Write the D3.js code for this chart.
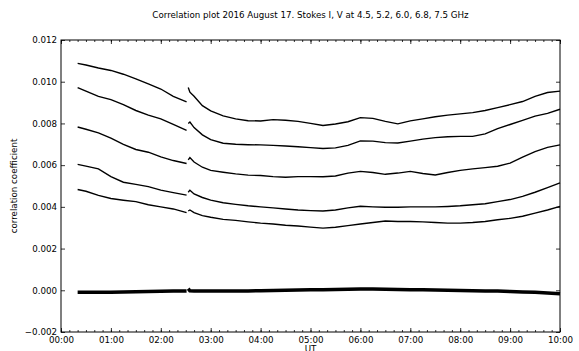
<!DOCTYPE html>
<html>
<head>
<meta charset="utf-8">
<script src="https://cdnjs.cloudflare.com/ajax/libs/d3/7.8.5/d3.min.js"></script>
<style>
  body { margin: 0; background: #fff; }
  svg { display: block; font-family: 'DejaVu Sans', sans-serif; }
</style>
</head>
<body>
<div id="chart"></div>
<script>
const title = 'Correlation plot 2016 August 17. Stokes I, V at 4.5, 5.2, 6.0, 6.8, 7.5 GHz'

// sample times (UT); null values mark the gap near 02:32
const times = [
  '00:20', '00:30', '00:45', '01:00', '01:15', '01:30', '01:45', '02:00', '02:15', '02:31',
  '02:32', '02:33', '02:35', '02:40', '02:50', '03:00', '03:15', '03:30', '03:45', '04:00',
  '04:15', '04:30', '04:45', '05:00', '05:15', '05:30', '05:45', '06:00', '06:15', '06:30',
  '06:45', '07:00', '07:15', '07:30', '07:45', '08:00', '08:15', '08:30', '08:45', '09:00',
  '09:15', '09:30', '09:45', '10:00'
]

const stokesI1 = [
  0.01088, 0.01080, 0.01066, 0.01054, 0.01036, 0.01014, 0.00990, 0.00965, 0.00930, 0.00903,
  null, 0.00972, 0.00950, 0.00930, 0.00885, 0.00860, 0.00836, 0.00822, 0.00813, 0.00812,
  0.00818, 0.00815, 0.00810, 0.00800, 0.00790, 0.00797, 0.00808, 0.00828, 0.00824, 0.00810,
  0.00798, 0.00812, 0.00822, 0.00832, 0.00840, 0.00846, 0.00852, 0.00862, 0.00876, 0.00890,
  0.00905, 0.00930, 0.00948, 0.00955
]
const stokesI2 = [
  0.00972, 0.00955, 0.00930, 0.00914, 0.00890, 0.00862, 0.00840, 0.00822, 0.00795, 0.00767,
  null, 0.00800, 0.00807, 0.00780, 0.00745, 0.00722, 0.00705, 0.00700, 0.00698, 0.00697,
  0.00695, 0.00692, 0.00688, 0.00684, 0.00680, 0.00683, 0.00695, 0.00716, 0.00715, 0.00708,
  0.00706, 0.00715, 0.00725, 0.00732, 0.00736, 0.00738, 0.00738, 0.00750, 0.00775, 0.00795,
  0.00815, 0.00835, 0.00848, 0.00868
]
const stokesI3 = [
  0.00783, 0.00772, 0.00755, 0.00730, 0.00700, 0.00675, 0.00662, 0.00640, 0.00622, 0.00608,
  null, 0.00625, 0.00636, 0.00615, 0.00590, 0.00575, 0.00566, 0.00558, 0.00552, 0.00550,
  0.00545, 0.00542, 0.00545, 0.00545, 0.00544, 0.00548, 0.00562, 0.00570, 0.00565, 0.00556,
  0.00562, 0.00570, 0.00560, 0.00553, 0.00565, 0.00575, 0.00582, 0.00588, 0.00595, 0.00610,
  0.00638, 0.00665, 0.00685, 0.00697
]
const stokesI4 = [
  0.00604, 0.00595, 0.00582, 0.00545, 0.00518, 0.00508, 0.00497, 0.00480, 0.00468, 0.00456,
  null, 0.00470, 0.00480, 0.00462, 0.00445, 0.00432, 0.00420, 0.00412, 0.00405, 0.00400,
  0.00395, 0.00390, 0.00385, 0.00382, 0.00380, 0.00385, 0.00395, 0.00403, 0.00400, 0.00398,
  0.00398, 0.00400, 0.00400, 0.00400, 0.00402, 0.00405, 0.00410, 0.00415, 0.00425, 0.00435,
  0.00450, 0.00470, 0.00492, 0.00515
]
const stokesI5 = [
  0.00483, 0.00475, 0.00455, 0.00440, 0.00432, 0.00425, 0.00410, 0.00400, 0.00390, 0.00372,
  null, 0.00380, 0.00385, 0.00372, 0.00358, 0.00350, 0.00340, 0.00335, 0.00328, 0.00322,
  0.00318, 0.00312, 0.00308, 0.00303, 0.00298, 0.00302, 0.00310, 0.00318, 0.00325, 0.00332,
  0.00330, 0.00330, 0.00328, 0.00325, 0.00322, 0.00322, 0.00325, 0.00330, 0.00338, 0.00345,
  0.00355, 0.00370, 0.00385, 0.00402
]
const stokesV = [
  -0.00010, -0.00010, -0.00010, -0.00009, -0.00008, -0.00007, -0.00006, -0.00005, -0.00004, -0.00003,
  null, 0.00008, -0.00003, -0.00004, -0.00004, -0.00004, -0.00004, -0.00003, -0.00003, -0.00002,
  -0.00001, 0.00000, 0.00001, 0.00002, 0.00003, 0.00004, 0.00005, 0.00006, 0.00006, 0.00005,
  0.00004, 0.00003, 0.00002, 0.00001, 0.00000, -0.00001, -0.00002, -0.00003, -0.00004, -0.00006,
  -0.00008, -0.00010, -0.00013, -0.00017
]

const yTicks = [-0.002, 0.000, 0.002, 0.004, 0.006, 0.008, 0.010, 0.012]

const parseTime = d3.utcParse('%Y-%m-%d %H:%M')
const day = '2016-08-17'

const width = 579, height = 351
const margin = { top: 40, right: 19, bottom: 19, left: 61 }
const innerW = width - margin.left - margin.right
const innerH = height - margin.top - margin.bottom

const svg = d3.select('#chart').append('svg')
  .attr('width', width)
  .attr('height', height)

const g = svg.append('g').attr('transform', `translate(${margin.left},${margin.top})`)

const x = d3.scaleUtc()
  .domain([parseTime(day + ' 00:00'), parseTime(day + ' 10:00')])
  .range([0, innerW])
const y = d3.scaleLinear().domain([-0.002, 0.012]).range([innerH, 0])

// data series
const series = [stokesI1, stokesI2, stokesI3, stokesI4, stokesI5]
const line = d3.line()
  .defined((d) => d.v !== null)
  .x((d) => x(d.t))
  .y((d) => y(d.v))

const toPoints = (vals) => vals.map((v, i) => ({ t: parseTime(day + ' ' + times[i]), v }))

series.forEach((vals) => {
  g.append('path')
    .datum(toPoints(vals))
    .attr('fill', 'none')
    .attr('stroke', '#000')
    .attr('stroke-width', 1.4)
    .attr('d', line)
})

g.append('path')
  .datum(toPoints(stokesV))
  .attr('fill', 'none')
  .attr('stroke', '#000')
  .attr('stroke-width', 3.5)
  .attr('d', line)

// axes, matplotlib classic style: inward ticks on all sides
const fmt = d3.utcFormat('%H:%M')
const hours = x.ticks(d3.utcHour.every(1))
const minors = x.ticks(d3.utcMinute.every(10))
const yFmt = d3.format('.3f')

g.append('g').attr('transform', `translate(0,${innerH})`)
  .call(d3.axisBottom(x).tickValues(hours).tickFormat(fmt).tickSizeInner(-4).tickSizeOuter(0).tickPadding(5))
g.append('g')
  .call(d3.axisTop(x).tickValues(hours).tickFormat('').tickSizeInner(-4).tickSizeOuter(0))
g.append('g').attr('transform', `translate(0,${innerH})`)
  .call(d3.axisBottom(x).tickValues(minors).tickFormat('').tickSizeInner(-2).tickSizeOuter(0))
g.append('g')
  .call(d3.axisTop(x).tickValues(minors).tickFormat('').tickSizeInner(-2).tickSizeOuter(0))

g.append('g')
  .call(d3.axisLeft(y).tickValues(yTicks).tickFormat(yFmt).tickSizeInner(-4).tickSizeOuter(0).tickPadding(4))
g.append('g').attr('transform', `translate(${innerW},0)`)
  .call(d3.axisRight(y).tickValues(yTicks).tickFormat('').tickSizeInner(-4).tickSizeOuter(0))

g.selectAll('.domain').remove()
g.selectAll('.tick line').attr('stroke', '#000').attr('stroke-width', 0.8)
g.selectAll('.tick text').attr('font-family', 'DejaVu Sans').attr('font-size', 8.7).attr('fill', '#000')

g.append('rect')
  .attr('width', innerW)
  .attr('height', innerH)
  .attr('fill', 'none')
  .attr('stroke', '#000')
  .attr('stroke-width', 1)

svg.append('text')
  .attr('x', margin.left + innerW / 2)
  .attr('y', 18)
  .attr('text-anchor', 'middle')
  .attr('font-size', 8.7)
  .text(title)

svg.append('text')
  .attr('x', margin.left + innerW / 2)
  .attr('y', 352)
  .attr('text-anchor', 'middle')
  .attr('font-size', 8.7)
  .text('UT')

svg.append('text')
  .attr('transform', `translate(17,${margin.top + innerH / 2}) rotate(-90)`)
  .attr('text-anchor', 'middle')
  .attr('font-size', 8.7)
  .text('correlation coefficient')
</script>
</body>
</html>
